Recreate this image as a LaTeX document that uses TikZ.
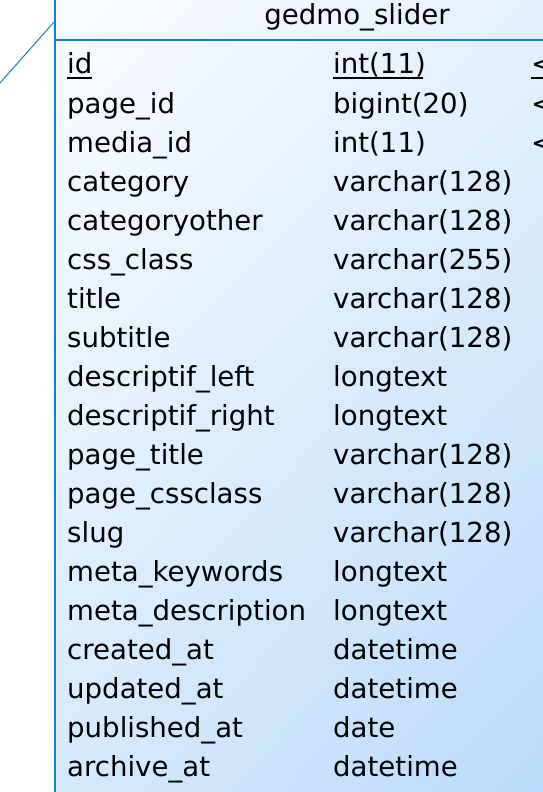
\documentclass[tikz,border=0pt]{standalone}
\usepackage{fontspec}
\setmainfont{DejaVu Sans}
\usetikzlibrary{shadings}
\definecolor{tblline}{HTML}{0A84C8}
\definecolor{shTL}{HTML}{FAFCFF}
\definecolor{shTR}{HTML}{E4F0FD}
\definecolor{shBL}{HTML}{D6E9FC}
\definecolor{shBR}{HTML}{BADBFB}
\tikzset{
  fld/.style={anchor=base west, inner sep=0pt, font=\fontsize{27.6}{32}\selectfont, text=black},
  ttl/.style={anchor=base, inner sep=0pt, font=\fontsize{27.6}{32}\selectfont, text=black},
  border/.style={draw=tblline, line width=1.5pt},
  ul/.style={line width=2pt, black},
}
\begin{document}
\begin{tikzpicture}[x=1pt,y=-1pt]
\useasboundingbox (0,0) rectangle (543,792);
\fill[white] (0,0) rectangle (543,792);
% table body with its gradient fill
\shade[upper left=shTL, upper right=shTR, lower left=shBL, lower right=shBR] (55,0) rectangle (543,792);
\draw[border] (55,0) -- (55,792);
\draw[border] (55,40) -- (543,40);
% link arriving at the table
\coordinate (linkA) at (0,83);
\coordinate (linkB) at (54,22);
\draw[tblline, line width=1pt] (linkA) -- (linkB);
% title
\node[ttl] (title) at (357,25) {gedmo\_slider};
% column names and types
\foreach \n/\t [count=\i from 0] in {
  id/int(11), page\_id/bigint(20), media\_id/int(11),
  category/varchar(128), categoryother/varchar(128), css\_class/varchar(255),
  title/varchar(128), subtitle/varchar(128), descriptif\_left/longtext,
  descriptif\_right/longtext, page\_title/varchar(128), page\_cssclass/varchar(128),
  slug/varchar(128), meta\_keywords/longtext, meta\_description/longtext,
  created\_at/datetime, updated\_at/datetime, published\_at/date, archive\_at/datetime} {
  \node[fld] (n\i) at (67,74+39*\i) {\n};
  \node[fld] (t\i) at (333,74+39*\i) {\t};
}
% key markers
\node[fld] (k0) at (531,74) {<};
\node[fld] (k1) at (531,113) {<};
\node[fld] (k2) at (531,152) {<};
% primary key underlines
\draw[ul] (n0.base west) ++(0,4) -- ++(25,0);
\draw[ul] (t0.base west) ++(0,4) -- ++(90,0);
\draw[ul] (k0.base west) ++(0,4) -- (543,78);
\end{tikzpicture}
\end{document}
